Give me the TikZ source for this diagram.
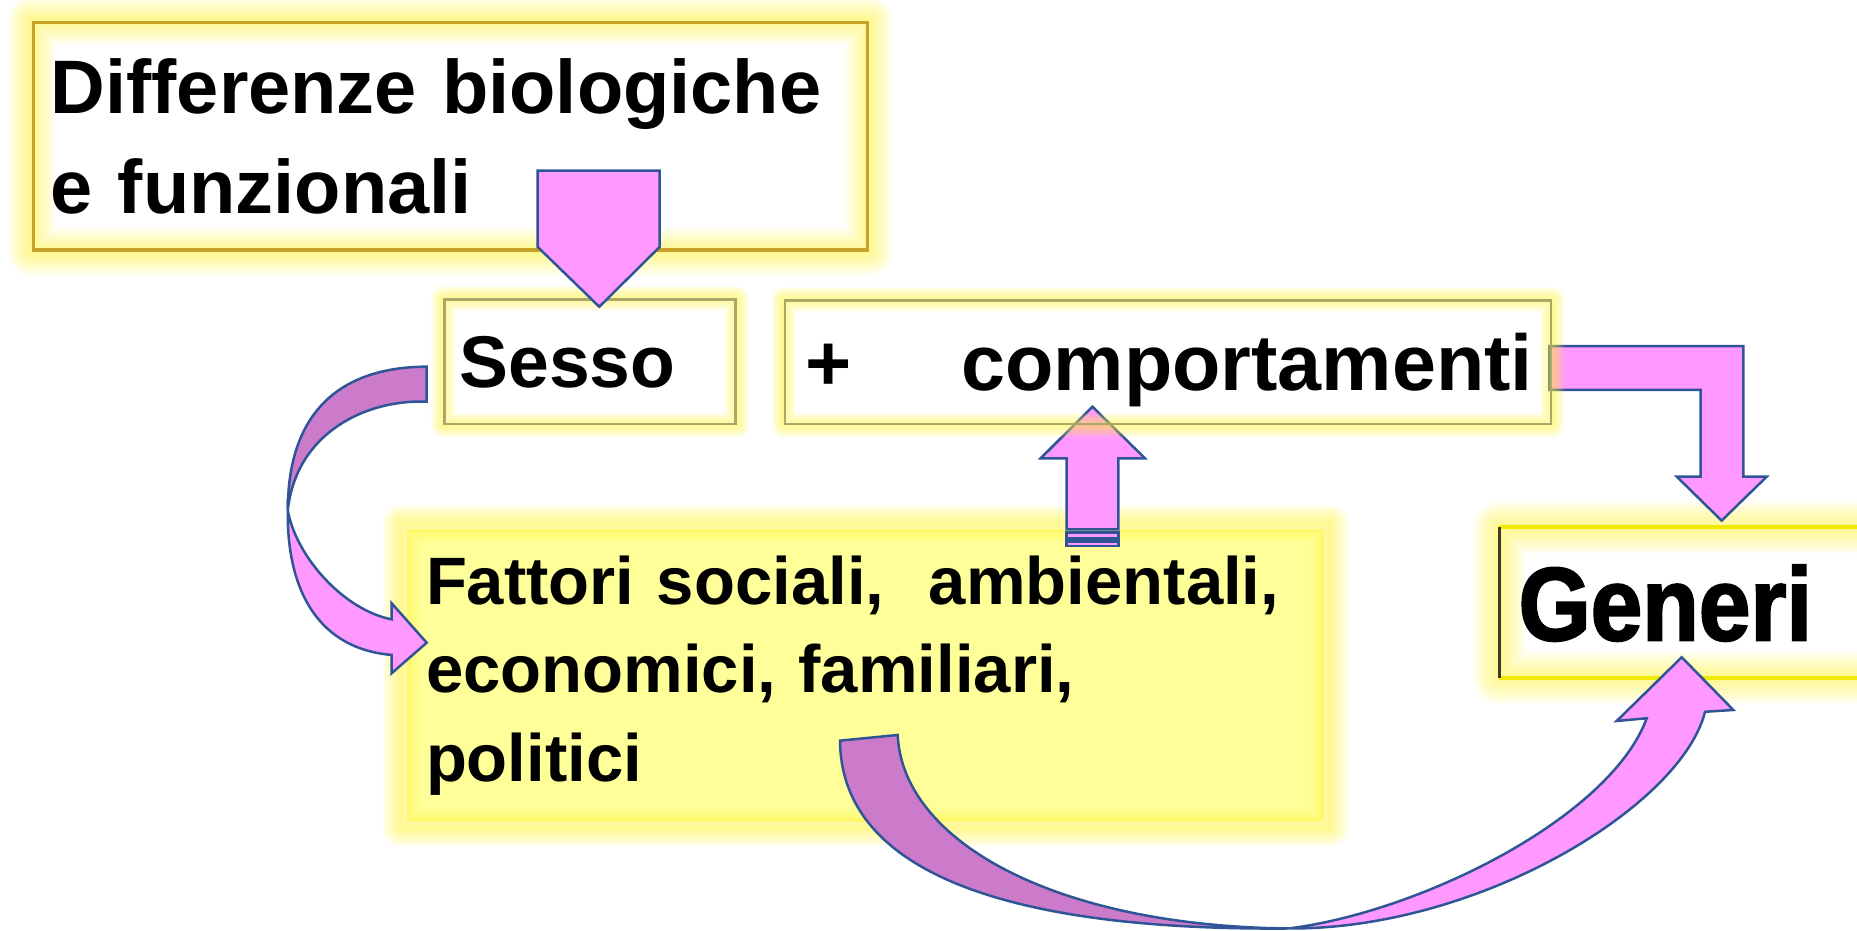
\documentclass[tikz,border=0pt]{standalone}
\usepackage{fontspec}
\setmainfont{Liberation Sans}
\newfontfamily\generifont{Liberation Sans}[FakeStretch=0.89,FakeBold=2]
\usetikzlibrary{backgrounds}
\definecolor{arrowpink}{HTML}{FF99FF}
\definecolor{arrowdark}{HTML}{CC7ACA}
\definecolor{arrowline}{HTML}{2F5597}
\definecolor{glowyellow}{HTML}{FFF233}
\definecolor{fattyellow}{HTML}{FFFF99}
\definecolor{goldline}{HTML}{C9A227}
\definecolor{oliveline}{HTML}{A9A86A}
\definecolor{generiline}{HTML}{F2E900}

\begin{document}
\begin{tikzpicture}[x=0.01cm,y=-0.01cm,
  box/.style={anchor=north west,inner ysep=0pt,align=left},
  block/.style={draw=arrowline,line width=0.6pt,fill=arrowpink},
  darkblock/.style={block,fill=arrowdark},
  glow/.style={glowyellow,opacity=0.07,line join=round}]
\useasboundingbox (0,0) rectangle (1568,786);

% the text boxes
\node[box,draw=goldline,line width=0.8pt,minimum width=7.038cm,minimum height=1.922cm,
  inner xsep=0.146cm,text width=6.746cm,font=\bfseries\fontsize{18.2}{24}\selectfont]
  (diff) at (26.7,17.5) {Differenze biologiche\\e funzionali};
\node[box,draw=oliveline,line width=0.6pt,minimum width=2.456cm,minimum height=1.049cm,
  inner xsep=0.127cm,text width=2.202cm,text depth=0pt,font=\bfseries\fontsize{17.6}{20}\selectfont]
  (sesso) at (374.3,252) {Sesso};
\node[box,draw=oliveline,line width=0.6pt,minimum width=6.461cm,minimum height=1.041cm,
  inner xsep=0.168cm,text width=6.125cm,text depth=0pt,font=\bfseries\fontsize{19}{22}\selectfont]
  (comp) at (661.9,252.8) {\mbox{+\hspace{0.93cm}comportamenti}};
\node[box,minimum width=7.726cm,minimum height=2.454cm,
  inner xsep=0.156cm,text width=7.414cm,font=\bfseries\fontsize{16.1}{21.3}\selectfont]
  (fatt) at (343.4,447) {Fattori sociali,~ ambientali,\\economici, familiari,\\politici};
\node[box,minimum width=3.54cm,minimum height=1.255cm,
  inner xsep=0.156cm,text width=3.228cm,text depth=0pt,font=\generifont\bfseries\fontsize{25}{30}\selectfont]
  (gen) at (1266,445.3) {Generi};
\draw[generiline,line width=1pt] (gen.north west) -- (gen.north east) (gen.south west) -- (gen.south east);
\draw[black!75!olive,line width=0.8pt] (gen.north west) -- (gen.south west);

\begin{scope}[on background layer]
\fill[fattyellow] (fatt.north west) rectangle (fatt.south east);
\foreach \k in {1,...,10}
  \draw[glow,line width=\k*0.9pt]
    ([shift={(-5,-5)}]fatt.north west) rectangle ([shift={(5,5)}]fatt.south east);
\foreach \n/\g in {diff/11.4,gen/12.5}
  \foreach \k in {1,...,10}
    \draw[glow,line width=\k*\g*0.1pt] (\n.north west) rectangle (\n.south east);
% straight arrows
\draw[block] (900.7,447) -- (900.7,387) -- (878.7,387) -- (922.4,343.4) -- (966.8,387)
  -- (944.3,387) -- (944.3,447) -- cycle;
\draw[block] (900.7,449.8) rectangle (944.3,454.6);
\draw[block] (900.7,457.4) rectangle (944.3,461);
\draw[block] (1308.2,292.2) -- (1472,292.2) -- (1472,402.5) -- (1491.8,402.5) -- (1453.7,439.6)
  -- (1415.8,402.5) -- (1436,402.5) -- (1436,329.3) -- (1308.2,329.3) -- cycle;
\foreach \n in {sesso,comp}
  \foreach \k in {1,...,10}
    \draw[glow,line width=\k*0.6pt] (\n.north west) rectangle (\n.south east);
\end{scope}

\draw[block] (454,144) -- (557,144) -- (557,208.5) -- (506,259) -- (454,208.5) -- cycle;

% curved arrows
\draw[darkblock] (360.3,309.6) .. controls (285,310) and (243,350) .. (243,431)
  .. controls (250,365) and (310,337) .. (360.3,339.2) -- cycle;
\draw[block] (243,431) .. controls (250,470) and (290,515) .. (330.7,523) -- (330.7,509.4)
  -- (360.3,542.7) -- (330.7,568.5) -- (330.7,553) .. controls (270,548) and (242,500) .. (243,431) -- cycle;
\draw[darkblock] (709.3,625.4) .. controls (710,730) and (835,786) .. (1088,784)
  .. controls (890,782) and (762,710) .. (758,620.6) -- cycle;
\draw[block] (1088,784) .. controls (1200,770) and (1360,690) .. (1390.4,606.5) -- (1365.1,608.8)
  -- (1420,555) -- (1463.6,599.5) -- (1439.7,601) .. controls (1420,680) and (1250,785) .. (1088,784) -- cycle;
\end{tikzpicture}
\end{document}
